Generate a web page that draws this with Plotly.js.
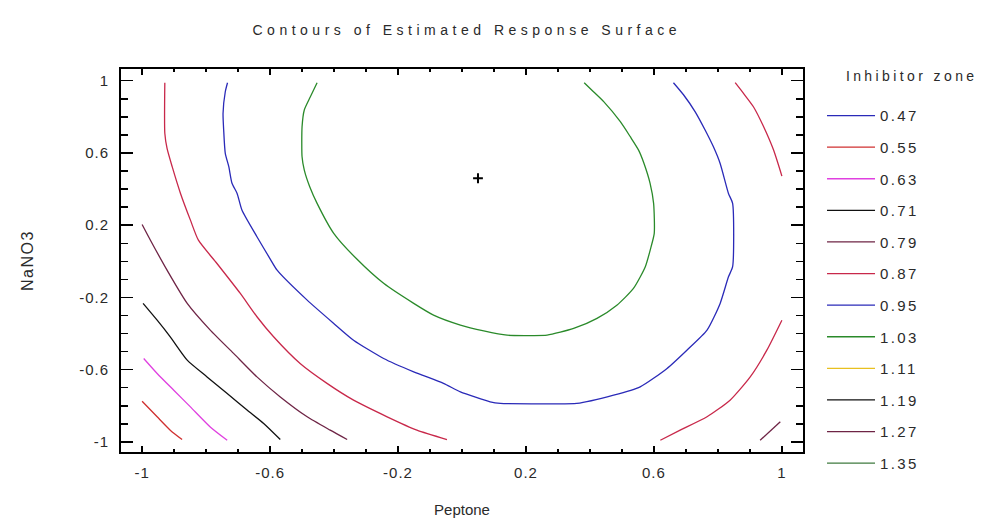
<!DOCTYPE html>
<html>
<head>
<meta charset="utf-8">
<script src="https://cdn.plot.ly/plotly-3.0.1.min.js"></script>
<style>
  html, body { margin: 0; padding: 0; background: #ffffff; }
  #chart { width: 988px; height: 522px; }
  /* wide, loosely tracked lettering of the titles and legend
     (unscoped so Plotly's text measuring sees the same spacing) */
  .gtitle { letter-spacing: 4.5px; }
  .legendtitletext { letter-spacing: 3.4px; }
  .legendtext { letter-spacing: 2.4px; }
  .xtick text, .ytick text { letter-spacing: 1px; }
  .ytitle { letter-spacing: 1.5px; }
</style>
</head>
<body>
<div id="chart"></div>
<script>
// Contour levels of the fitted Inhibitor zone response and their line colours
const levels = [0.47, 0.55, 0.63, 0.71, 0.79, 0.87, 0.95, 1.03, 1.11, 1.19, 1.27, 1.35];
const levelColors = ['#2a2ab8', '#d03030', '#e040e0', '#111111', '#6e2445', '#c8284a',
                     '#2a2ab8', '#2a8a2a', '#e8c020', '#111111', '#6e2445', '#3f7a3f'];

// Axis tick positions and labels (coded factor levels)
const tickVals = [-1, -0.6, -0.2, 0.2, 0.6, 1];
const tickText = ['-1', '-0.6', '-0.2', '0.2', '0.6', '1'];

// Contour paths (Peptone, NaNO3); null separates pieces of the same level
const c055x = [-1.0, -0.953, -0.912, -0.875];
const c055y = [-0.775, -0.861, -0.935, -0.987];

const c063x = [-0.995, -0.953, -0.901, -0.849, -0.787, -0.734];
const c063y = [-0.538, -0.621, -0.714, -0.806, -0.917, -0.991];

const c071x = [-0.997, -0.953, -0.912, -0.859, -0.797, -0.734, -0.672, -0.620, -0.568];
const c071y = [-0.233, -0.326, -0.418, -0.547, -0.640, -0.732, -0.824, -0.898, -0.987];

const c079x = [-1.0, -0.974, -0.922, -0.859, -0.787, -0.714, -0.641, -0.568, -0.484, -0.412, -0.359,
               null, 0.932, 0.995];
const c079y = [0.204, 0.117, -0.049, -0.233, -0.381, -0.510, -0.640, -0.751, -0.861, -0.935, -0.987,
               null, -0.991, -0.889];

const c087x = [-0.929, -0.929, -0.922, -0.906, -0.880, -0.849, -0.824, -0.766, -0.693, -0.641, -0.589,
               -0.506, -0.422, -0.339, -0.234, -0.141, -0.047,
               null, 0.854, 0.880, 0.911, 0.943, 0.974, 1.0,
               null, 0.620, 0.682, 0.766, 0.838, 0.901, 0.953, 1.0];
const c087y = [0.989, 0.709, 0.625, 0.524, 0.376, 0.228, 0.117, -0.012, -0.178, -0.307, -0.418,
               -0.566, -0.676, -0.769, -0.861, -0.935, -0.987,
               null, 0.989, 0.930, 0.856, 0.745, 0.616, 0.472,
               null, -0.991, -0.935, -0.861, -0.769, -0.640, -0.492, -0.326];

const c095x = [-0.733, -0.740, -0.747, -0.745, -0.740, -0.729, -0.719, -0.703, -0.688, -0.641, -0.599,
               -0.578, -0.484, -0.401, -0.339, -0.245, -0.151, -0.058, -0.005, 0.088, 0.120, 0.240,
               0.359, 0.474, 0.557, 0.641, 0.703, 0.766, 0.807, 0.833, 0.846, 0.846, 0.833, 0.807,
               0.786, 0.760, 0.729, 0.693, 0.661];
const c095y = [0.989, 0.939, 0.819, 0.727, 0.598, 0.524, 0.432, 0.376, 0.284, 0.136, 0.011,
               -0.049, -0.215, -0.344, -0.437, -0.538, -0.612, -0.676, -0.723, -0.778, -0.787, -0.789,
               -0.787, -0.741, -0.695, -0.593, -0.492, -0.381, -0.233, -0.086, -0.030, 0.321, 0.376, 0.542,
               0.634, 0.727, 0.828, 0.921, 0.989];

const c103x = [-0.453, -0.474, -0.493, -0.500, -0.500, -0.493, -0.476, -0.453, -0.401, -0.328, -0.245,
               -0.151, -0.089, -0.005, 0.068, 0.141, 0.204, 0.266, 0.349, 0.422, 0.484, 0.536, 0.573,
               0.591, 0.601, 0.599, 0.588, 0.569, 0.552, 0.526, 0.495, 0.443, 0.411, 0.382];
const c103y = [0.989, 0.911, 0.838, 0.745, 0.579, 0.505, 0.413, 0.321, 0.155, 0.011, -0.122,
               -0.233, -0.298, -0.353, -0.385, -0.409, -0.411, -0.409, -0.372, -0.316, -0.243, -0.150, -0.030,
               0.080, 0.155, 0.321, 0.432, 0.542, 0.616, 0.690, 0.773, 0.884, 0.939, 0.989];

// Levels with no line inside the design region (kept for the legend)
const noPath = [null];

// Stationary point of the surface
const optX = [0.05];
const optY = [0.46];

const pathsX = [noPath, c055x, c063x, c071x, c079x, c087x, c095x, c103x, noPath, noPath, noPath, noPath];
const pathsY = [noPath, c055y, c063y, c071y, c079y, c087y, c095y, c103y, noPath, noPath, noPath, noPath];

const textFont = 'Liberation Sans, Arial, sans-serif';
const textColor = '#2a2a2a';

const traces = levels.map((lv, i) => ({
  type: 'scatter',
  mode: 'lines',
  x: pathsX[i],
  y: pathsY[i],
  name: lv.toFixed(2),
  legendgroup: 'g' + i,
  connectgaps: false,
  hoverinfo: 'skip',
  line: { color: levelColors[i], width: 1.3, shape: 'spline', smoothing: 0.6 }
}));

traces.push({
  type: 'scatter',
  mode: 'markers',
  x: optX,
  y: optY,
  showlegend: false,
  hoverinfo: 'skip',
  marker: { symbol: 'cross-thin', size: 7, line: { color: '#000000', width: 2 } }
});

const layout = {
  width: 988,
  height: 522,
  paper_bgcolor: '#ffffff',
  plot_bgcolor: '#ffffff',
  margin: { l: 121, r: 185, t: 69, b: 70 },
  font: { family: textFont, size: 15, color: textColor },
  title: {
    text: 'Contours of Estimated Response Surface',
    font: { family: textFont, size: 14, color: textColor },
    x: 0.507, xref: 'paper', xanchor: 'center',
    y: 0.943, yref: 'container', yanchor: 'middle'
  },
  xaxis: {
    range: [-1.066, 1.066],
    tickmode: 'array', tickvals: tickVals, ticktext: tickText,
    ticks: 'inside', ticklen: 6, tickwidth: 1.5, tickcolor: '#000000',
    minor: { tickmode: 'linear', tick0: -1, dtick: 0.1, ticks: 'inside', ticklen: 3, tickwidth: 1.5, tickcolor: '#000000' },
    showline: true, linecolor: '#000000', linewidth: 2, mirror: 'ticks',
    showgrid: false, zeroline: false,
    ticklabelstandoff: 6,
    tickfont: { family: textFont, size: 15, color: textColor },
    title: { text: 'Peptone', font: { family: textFont, size: 15, color: textColor }, standoff: 24 }
  },
  yaxis: {
    range: [-1.056, 1.065],
    tickmode: 'array', tickvals: tickVals, ticktext: tickText,
    ticks: 'inside', ticklen: 12, tickwidth: 1.5, tickcolor: '#000000',
    minor: { tickmode: 'linear', tick0: -1, dtick: 0.1, ticks: 'inside', ticklen: 7, tickwidth: 1.5, tickcolor: '#000000' },
    showline: true, linecolor: '#000000', linewidth: 2, mirror: 'ticks',
    showgrid: false, zeroline: false,
    ticklabelstandoff: 7,
    tickfont: { family: textFont, size: 15, color: textColor },
    title: { text: 'NaNO3', font: { family: textFont, size: 16, color: textColor }, standoff: 42 }
  },
  showlegend: true,
  legend: {
    xref: 'container', x: 0.832, xanchor: 'left',
    yref: 'container', y: 0.8795, yanchor: 'top',
    maxheight: 490,
    traceorder: 'grouped',
    tracegroupgap: 9.1,
    itemwidth: 48,
    bgcolor: 'rgba(0,0,0,0)',
    borderwidth: 0,
    font: { family: textFont, size: 15, color: textColor },
    title: {
      text: '&nbsp;&nbsp;&nbsp;Inhibitor zone<br> ',
      font: { family: textFont, size: 14, color: textColor }
    }
  }
};

Plotly.newPlot('chart', traces, layout, { displayModeBar: false, staticPlot: true });
</script>
</body>
</html>
